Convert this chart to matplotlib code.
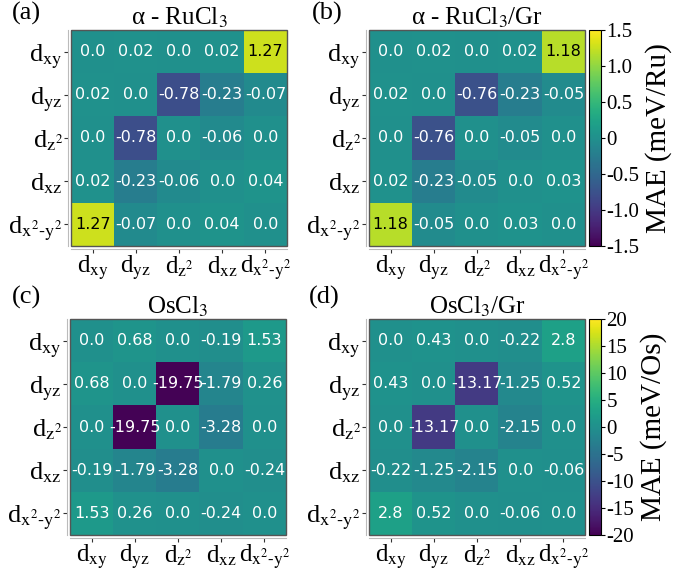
import numpy as np
import matplotlib.pyplot as plt
from matplotlib.colors import Normalize, to_rgb
from matplotlib.patches import Rectangle

plt.rcParams['font.family'] = ['Liberation Serif', 'DejaVu Serif']
plt.rcParams['mathtext.fontset'] = 'stix'

orbitals = [r'd$_{\mathrm{xy}}$', r'd$_{\mathrm{yz}}$', r'd$_{\mathrm{z^2}}$',
            r'd$_{\mathrm{xz}}$', r'd$_{\mathrm{x^2\text{-}y^2}}$']

# MAE matrices (meV per metal atom)
mae_rucl3 = [[0.0, 0.02, 0.0, 0.02, 1.27],
             [0.02, 0.0, -0.78, -0.23, -0.07],
             [0.0, -0.78, 0.0, -0.06, 0.0],
             [0.02, -0.23, -0.06, 0.0, 0.04],
             [1.27, -0.07, 0.0, 0.04, 0.0]]
mae_rucl3_gr = [[0.0, 0.02, 0.0, 0.02, 1.18],
                [0.02, 0.0, -0.76, -0.23, -0.05],
                [0.0, -0.76, 0.0, -0.05, 0.0],
                [0.02, -0.23, -0.05, 0.0, 0.03],
                [1.18, -0.05, 0.0, 0.03, 0.0]]
mae_oscl3 = [[0.0, 0.68, 0.0, -0.19, 1.53],
             [0.68, 0.0, -19.75, -1.79, 0.26],
             [0.0, -19.75, 0.0, -3.28, 0.0],
             [-0.19, -1.79, -3.28, 0.0, -0.24],
             [1.53, 0.26, 0.0, -0.24, 0.0]]
mae_oscl3_gr = [[0.0, 0.43, 0.0, -0.22, 2.8],
                [0.43, 0.0, -13.17, -1.25, 0.52],
                [0.0, -13.17, 0.0, -2.15, 0.0],
                [-0.22, -1.25, -2.15, 0.0, -0.06],
                [2.8, 0.52, 0.0, -0.06, 0.0]]

titles = [r'α - RuCl$_3$', r'α - RuCl$_3$/Gr', r'OsCl$_3$', r'OsCl$_3$/Gr']
panel_tags = ['(a)', '(b)', '(c)', '(d)']
cbar_ticks_ru = [-1.5, -1.0, -0.5, 0, 0.5, 1.0, 1.5]
cbar_labels_ru = ['-1.5', '-1.0', '-0.5', '0', '0.5', '1.0', '1.5']
cbar_ticks_os = [-20, -15, -10, -5, 0, 5, 10, 15, 20]
cbar_labels_os = ['-20', '-15', '-10', '-5', '0', '5', '10', '15', '20']

W, H = 689, 574
fig = plt.figure(figsize=(W / 100, H / 100), dpi=100)


def px_axes(x0, y0, w, h):
    return fig.add_axes([x0 / W, 1 - (y0 + h) / H, w / W, h / H])


def text_color(rgba):
    r, g, b = [c / 12.92 if c <= 0.03928 else ((c + 0.055) / 1.055) ** 2.4
               for c in to_rgb(rgba)]
    lum = 0.2126 * r + 0.7152 * g + 0.0722 * b
    return 'black' if lum > 0.408 else 'white'


def heatmap(ax, data, vmax, title):
    data = np.array(data)
    norm = Normalize(-vmax, vmax)
    cmap = plt.get_cmap('viridis')
    im = ax.imshow(data, cmap=cmap, norm=norm, aspect='auto',
                   extent=(0, 5, 5, 0))
    for i in range(5):
        for j in range(5):
            v = data[i, j]
            ax.text(j + 0.5, i + 0.5, f'{v:g}' if v != int(v) else f'{v:.1f}',
                    ha='center', va='center', fontsize=11.5,
                    family='DejaVu Sans', color=text_color(cmap(norm(v))))
    ax.add_patch(Rectangle((0, 0), 5, 5, fill=False, edgecolor='#555555',
                           lw=1.0, clip_on=False, zorder=5))
    ax.set_xlim(0, 5)
    ax.set_ylim(5, 0)
    ax.set_xticks(np.arange(5) + 0.5)
    ax.set_yticks(np.arange(5) + 0.5)
    ax.set_xticklabels(orbitals)
    ax.set_yticklabels(orbitals)
    for side in ['top', 'right']:
        ax.spines[side].set_visible(False)
    for side in ['left', 'bottom']:
        ax.spines[side].set_position(('outward', 2))
        ax.spines[side].set_color('#bbbbbb')
        ax.spines[side].set_linewidth(0.8)
    ax.tick_params(length=3, width=0.8, color='#333333', pad=1, labelsize=19)
    ax.tick_params(axis='x', labelsize=18)
    ax.set_title(title, fontsize=18, pad=3)
    return im


def colorbar(im, cax, ticks, labels, label):
    cb = fig.colorbar(im, cax=cax, ticks=ticks)
    cb.ax.set_yticklabels(labels)
    cb.ax.tick_params(length=3, width=0.8, pad=1, labelsize=15)
    cb.outline.set_linewidth(0.8)
    cb.set_label(label, fontsize=21, labelpad=4)


ax_a = px_axes(71, 30, 216, 216)
ax_b = px_axes(369, 30, 216, 216)
ax_c = px_axes(70, 319, 216, 216)
ax_d = px_axes(369, 319, 216, 216)

heatmap(ax_a, mae_rucl3, 1.5, titles[0])
im_b = heatmap(ax_b, mae_rucl3_gr, 1.5, titles[1])
heatmap(ax_c, mae_oscl3, 20, titles[2])
im_d = heatmap(ax_d, mae_oscl3_gr, 20, titles[3])

colorbar(im_b, px_axes(589, 30, 12, 216), cbar_ticks_ru, cbar_labels_ru, 'MAE (meV/Ru)')
colorbar(im_d, px_axes(589, 319, 12, 216), cbar_ticks_os, cbar_labels_os, 'MAE (meV/Os)')

for tag, (x, y) in zip(panel_tags, [(12, 2), (312, 2), (12, 286), (309, 286)]):
    fig.text(x / W, 1 - y / H, tag, fontsize=19, ha='left', va='top')

fig.savefig('out.png', dpi=100)
